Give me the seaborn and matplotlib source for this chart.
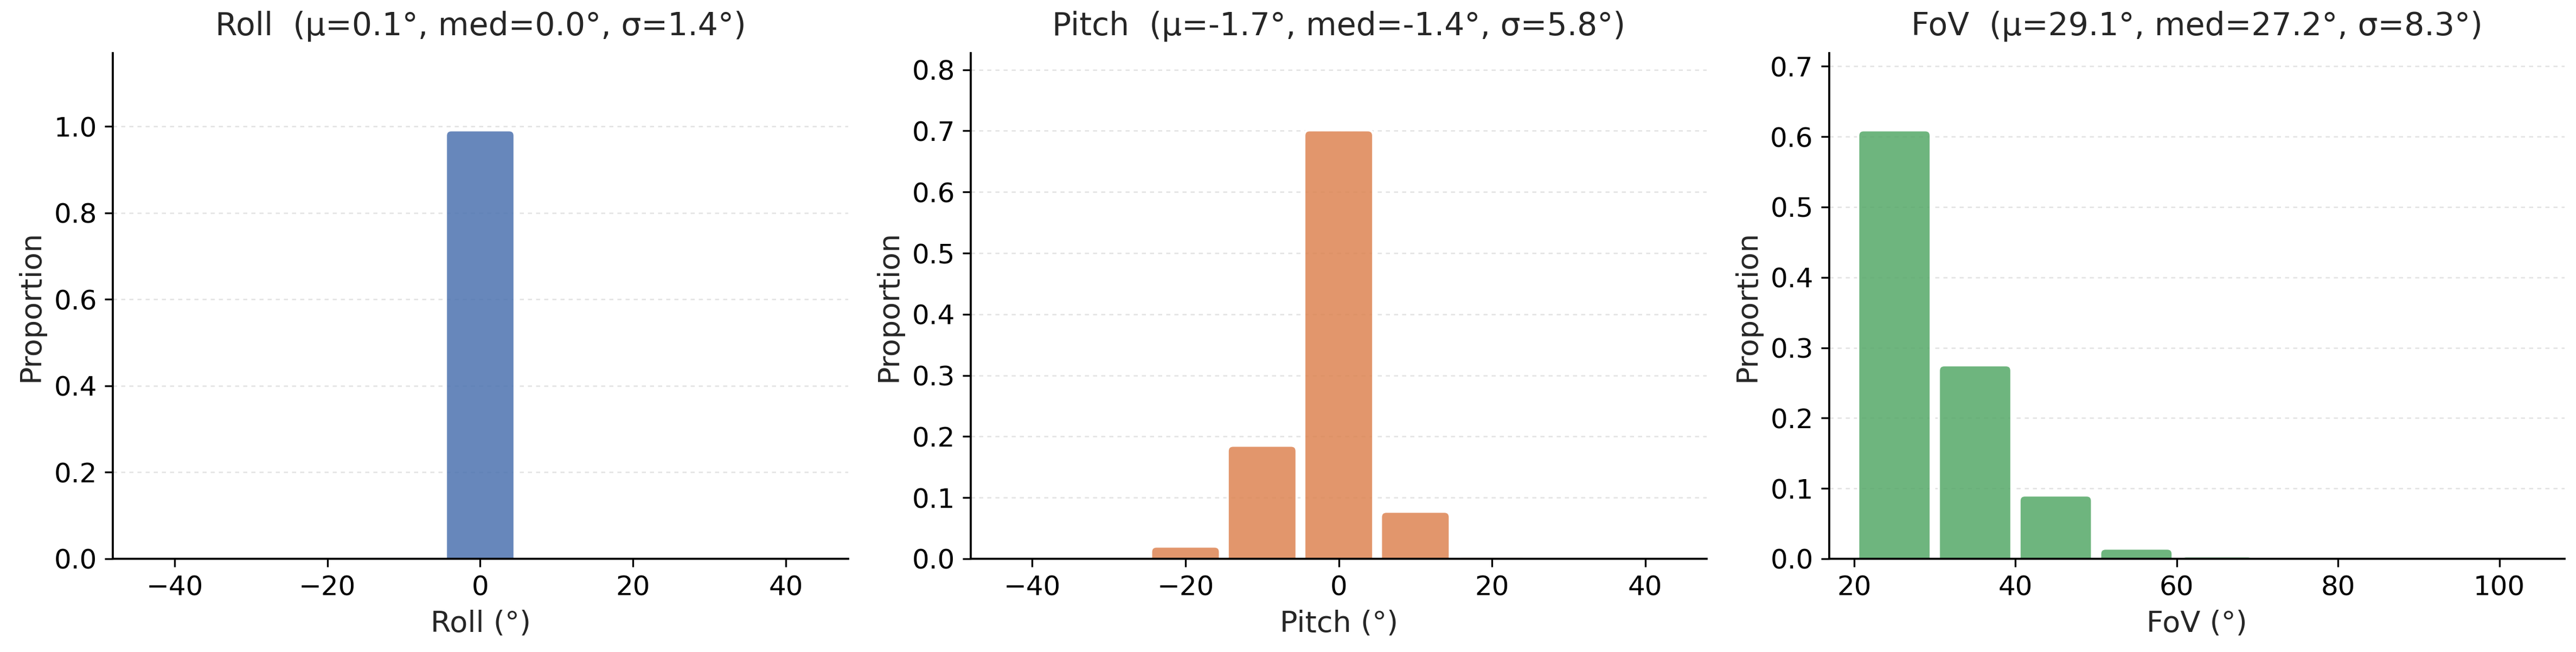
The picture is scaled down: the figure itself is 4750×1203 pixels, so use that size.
import numpy as np
import pandas as pd
import matplotlib
matplotlib.use("Agg")
import matplotlib.pyplot as plt
import seaborn as sns
from matplotlib.patches import FancyBboxPatch
from matplotlib.ticker import MultipleLocator

# bin centres and proportions
angle_centers = [-40, -30, -20, -10, 0, 10, 20, 30, 40]
roll_prop = [0.0, 0.0, 0.0, 0.004, 0.991, 0.003, 0.001, 0.0, 0.0]
pitch_prop = [0.0005, 0.002, 0.020, 0.185, 0.701, 0.077, 0.0035, 0.0005, 0.0]
fov_centers = [25, 35, 45, 55, 65, 75, 85]
fov_prop = [0.609, 0.275, 0.090, 0.0145, 0.0035, 0.0005, 0.0005]

angle_bins = list(range(-45, 46, 10))
fov_bins = list(range(20, 91, 10))

titles = ["Roll  (μ=0.1°, med=0.0°, σ=1.4°)",
          "Pitch  (μ=-1.7°, med=-1.4°, σ=5.8°)",
          "FoV  (μ=29.1°, med=27.2°, σ=8.3°)"]
xlabels = ["Roll (°)", "Pitch (°)", "FoV (°)"]


def round_tops(ax, radius_px=10):
    # swap the square histogram bars for ones with rounded top corners
    bb = ax.get_window_extent()
    x0, x1 = ax.get_xlim()
    y0, y1 = ax.get_ylim()
    px_x = bb.width / (x1 - x0)
    px_y = bb.height / (y1 - y0)
    dr = radius_px / px_x
    aspect = px_x / px_y
    ry = dr * aspect
    for p in list(ax.patches):
        x, w, h = p.get_x(), p.get_width(), p.get_height()
        fc, ec, lw = p.get_facecolor(), p.get_edgecolor(), p.get_linewidth()
        p.remove()
        if h <= 0:
            continue
        nb = FancyBboxPatch((x, -2 * ry), w, h + 2 * ry,
                            boxstyle=f"round,pad=0,rounding_size={dr}",
                            mutation_aspect=aspect,
                            facecolor=fc, edgecolor=ec, linewidth=lw)
        ax.add_patch(nb)


sns.set_style("ticks")
plt.rcParams["font.family"] = ["DejaVu Sans"]
plt.rcParams["axes.edgecolor"] = "black"
plt.rcParams["xtick.color"] = "black"
plt.rcParams["ytick.color"] = "black"
plt.rcParams["axes.linewidth"] = 0.9

colors = sns.color_palette("deep")

fig, axes = plt.subplots(1, 3, figsize=(4750 / 300, 1203 / 300), dpi=300)
fig.subplots_adjust(left=0.0438, right=0.9956, bottom=0.143, top=0.9185, wspace=0.1667)

series = [
    (angle_centers, roll_prop, angle_bins, (-48.1, 48.2), 0.2),
    (angle_centers, pitch_prop, angle_bins, (-48.0, 48.0), 0.1),
    (fov_centers, fov_prop, fov_bins, (16.9, 108.1), 0.1),
]

for i, (ax, (centers, props, bins, xlim, ystep)) in enumerate(zip(axes, series)):
    df = pd.DataFrame({"value": centers, "prop": props})
    sns.histplot(data=df, x="value", weights="prop", bins=bins, shrink=0.9,
                 color=colors[i], alpha=0.85, edgecolor="white",
                 linewidth=1.0, ax=ax)
    ax.set_xlim(*xlim)
    ax.set_ylim(0, max(props) * 1.18)
    ax.yaxis.set_major_locator(MultipleLocator(ystep))
    ax.xaxis.set_major_locator(MultipleLocator(20))
    ax.yaxis.grid(True, linestyle=(0, (3, 3)), color="#e2e2e2", linewidth=0.6)
    ax.set_axisbelow(True)
    ax.set_title(titles[i], fontsize=14, pad=8)
    ax.set_xlabel(xlabels[i], fontsize=13)
    ax.set_ylabel("Proportion", fontsize=13)
    ax.tick_params(labelsize=12)
    sns.despine(ax=ax)
    round_tops(ax)

fig.savefig("out.png", dpi=300)
